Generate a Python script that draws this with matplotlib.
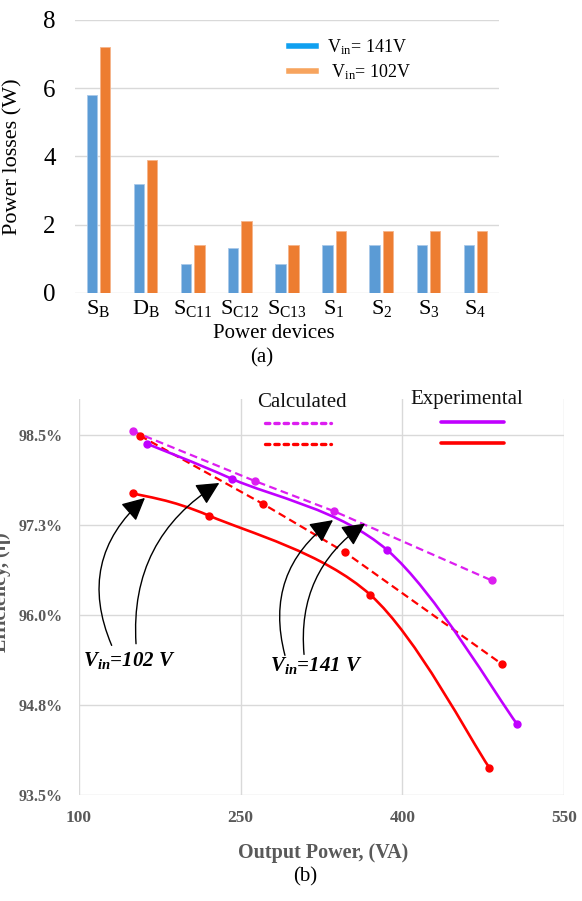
import matplotlib
matplotlib.use("Agg")
import matplotlib.pyplot as plt
import numpy as np
from matplotlib.path import Path
from matplotlib.patches import PathPatch
from matplotlib.lines import Line2D

plt.rcParams['font.family'] = ['Liberation Serif', 'DejaVu Serif']
plt.rcParams['mathtext.fontset'] = 'custom'
plt.rcParams['mathtext.rm'] = 'Liberation Serif'
plt.rcParams['mathtext.it'] = 'Liberation Serif:italic'
plt.rcParams['mathtext.bf'] = 'Liberation Serif:bold'
plt.rcParams['mathtext.bfit'] = 'Liberation Serif:bold:italic'

# ---------------- data (a) ----------------
devices = [r'S$_\mathrm{B}$', r'D$_\mathrm{B}$', r'S$_\mathrm{C11}$', r'S$_\mathrm{C12}$',
           r'S$_\mathrm{C13}$', r'S$_\mathrm{1}$', r'S$_\mathrm{2}$', r'S$_\mathrm{3}$', r'S$_\mathrm{4}$']
loss_141 = [5.8, 3.2, 0.85, 1.3, 0.85, 1.4, 1.4, 1.4, 1.4]
loss_102 = [7.2, 3.9, 1.4, 2.1, 1.4, 1.8, 1.8, 1.8, 1.8]
yticks_a = [0, 2, 4, 6, 8]

# ---------------- data (b) ----------------
calc141_x = [150.4, 263.3, 336.9, 482.9]
calc141_y = [98.55, 97.86, 97.44, 96.48]
calc102_x = [156.6, 271.0, 346.8, 492.2]
calc102_y = [98.49, 97.54, 96.87, 95.32]
exp141_x = [162.8, 242.0, 386.1, 506.7]
exp141_y = [98.38, 97.89, 96.90, 94.48]
exp102_x = [150.4, 220.6, 370.3, 480.7]
exp102_y = [97.69, 97.38, 96.28, 93.88]
xticks_b = [100, 250, 400, 550]
yticks_b = [93.5, 94.75, 96.0, 97.25, 98.5]
ytick_labels_b = ['93.5%', '94.8%', '96.0%', '97.3%', '98.5%']

W, H = 582, 901
fig = plt.figure(figsize=(W / 100, H / 100), dpi=100)

# ================= (a) =================
ax = fig.add_axes([75 / W, 1 - 292.7 / H, 424 / W, 272.7 / H])
x = np.arange(len(devices))
bw = 0.22
ax.bar(x - 0.14, loss_141, bw, color='#5b9bd5', edgecolor='#a9c9ea', linewidth=0.6, zorder=3)
ax.bar(x + 0.14, loss_102, bw, color='#ed7d31', edgecolor='#f5b48a', linewidth=0.6, zorder=3)
ax.set_xlim(-0.5, len(devices) - 0.5)
ax.set_ylim(0, 8)
ax.set_yticks(yticks_a)
ax.set_yticklabels([str(v) for v in yticks_a], fontsize=18)
ax.set_xticks(x)
ax.set_xticklabels(devices, fontsize=16)
ax.tick_params(axis='both', length=0)
ax.tick_params(axis='y', pad=14)
ax.tick_params(axis='x', pad=4)
for s in ax.spines.values():
    s.set_visible(False)
ax.grid(axis='y', color='#d9d9d9', lw=1.0, zorder=0)
ax.set_axisbelow(True)
ax.set_ylabel('Power losses (W)', fontsize=16)
ax.yaxis.set_label_coords(-0.125, 0.5)
ax.text(0.469, -0.148, 'Power devices', transform=ax.transAxes, ha='center', va='center', fontsize=15)
ax.text(0.441, -0.239, '(a)', transform=ax.transAxes, ha='center', va='center', fontsize=15)

handles = [Line2D([], [], color='#10a0f0', lw=4.0),
           Line2D([], [], color='#f7a45e', lw=4.0)]
ax.legend(handles, [r'V$_\mathrm{in}$= 141V', r' V$_\mathrm{in}$= 102V'],
          loc='upper left', bbox_to_anchor=(0.505, 0.935), frameon=False,
          fontsize=13, handlelength=1.5, handletextpad=0.6, borderpad=0,
          borderaxespad=0, labelspacing=0.25)

# ================= (b) =================
ax2 = fig.add_axes([79 / W, 1 - 795 / H, 485 / W, 396 / H])
ax2.set_xlim(100, 550)
ax2.set_ylim(93.5, 99.0)
ax2.set_xticks(xticks_b)
ax2.set_xticklabels([str(v) for v in xticks_b], fontsize=12.5, fontweight='bold', color='#595959')
ax2.set_yticks(yticks_b)
ax2.set_yticklabels(ytick_labels_b, fontsize=11.5, fontweight='bold', color='#595959')
ax2.tick_params(axis='both', length=0)
ax2.tick_params(axis='y', pad=11.5)
ax2.tick_params(axis='x', pad=11)
for s in ax2.spines.values():
    s.set_visible(False)
ax2.grid(True, color='#d9d9d9', lw=1.0, zorder=0)
ax2.set_axisbelow(True)
ax2.text(0.503, -0.1457, 'Output Power, (VA)', transform=ax2.transAxes, ha='center', va='center',
         fontsize=14.5, fontweight='bold', color='#595959')
fig.text(1.5 / W, 1 - 592 / H, 'Efficiency, (η)', rotation=90, ha='center', va='center',
         fontsize=14.5, fontweight='bold', color='#595959')
fig.text(305 / W, 1 - 877 / H, '(b)', ha='center', va='center', fontsize=15)

MAG_D = '#dc1ef0'
MAG_S = '#c000ff'
RED = '#ff0000'


def smooth_path(xs, ys):
    pts = np.column_stack([xs, ys]).astype(float)
    n = len(pts)
    verts = [pts[0]]
    codes = [Path.MOVETO]
    for i in range(n - 1):
        p0 = pts[i - 1] if i > 0 else pts[i]
        p1 = pts[i]
        p2 = pts[i + 1]
        p3 = pts[i + 2] if i + 2 < n else pts[i + 1]
        c1 = p1 + (p2 - p0) / 6.0
        c2 = p2 - (p3 - p1) / 6.0
        verts += [c1, c2, p2]
        codes += [Path.CURVE4] * 3
    return Path(verts, codes)


# calculated (dashed)
ax2.plot(calc141_x, calc141_y, color=MAG_D, lw=1.6, dashes=(3.5, 2.0), marker='o', ms=5, zorder=4)
ax2.plot(calc102_x, calc102_y, color=RED, lw=1.6, dashes=(3.5, 2.0), marker='o', ms=5, zorder=4)
# experimental (smoothed)
for xs, ys, c in [(exp102_x, exp102_y, RED), (exp141_x, exp141_y, MAG_S)]:
    ax2.add_patch(PathPatch(smooth_path(xs, ys), fill=False, edgecolor=c, lw=1.9, zorder=5))
    ax2.plot(xs, ys, linestyle='none', marker='o', ms=5, color=c, zorder=6)

# key
ta = ax2.transAxes
ax2.text(0.4604, 0.9924, 'Calculated', transform=ta, ha='center', va='center', fontsize=15, color='#111111')
ax2.text(0.8004, 0.9975, 'Experimental', transform=ta, ha='center', va='center', fontsize=15, color='#111111')
ax2.add_line(Line2D([0.3835, 0.5189], [0.9386, 0.9386], transform=ta, color=MAG_D, lw=2.4,
                    dashes=(1.3, 1.5), dash_capstyle='round', zorder=7))
ax2.add_line(Line2D([0.3835, 0.5189], [0.8856, 0.8856], transform=ta, color=RED, lw=2.4,
                    dashes=(1.3, 1.5), dash_capstyle='round', zorder=7))
ax2.add_line(Line2D([0.7458, 0.8763], [0.9412, 0.9412], transform=ta, color=MAG_S, lw=2.6,
                    solid_capstyle='round', zorder=7))
ax2.add_line(Line2D([0.7458, 0.8763], [0.8881, 0.8881], transform=ta, color=RED, lw=2.6,
                    solid_capstyle='round', zorder=7))

# annotations
arrows = [((130.3, 95.578), (161.2, 97.626), -0.36),
          ((152.9, 95.601), (230.2, 97.834), -0.30),
          ((291.1, 95.439), (335.7, 97.318), -0.34),
          ((308.8, 95.453), (365.4, 97.270), -0.29)]
for start, tip, rad in arrows:
    ax2.annotate('', xy=tip, xytext=start,
                 arrowprops=dict(arrowstyle='-|>,head_length=0.7,head_width=0.35',
                                 connectionstyle=f'arc3,rad={rad}', color='black', lw=1.0,
                                 shrinkA=0, shrinkB=0, mutation_scale=20), zorder=8)
ax2.text(103.4, 95.37, r'$\mathbfit{V}_{\mathbfit{in}}$=102 V', ha='left', va='center',
         fontsize=15, fontweight='bold', fontstyle='italic', zorder=9)
ax2.text(277.2, 95.30, r'$\mathbfit{V}_{\mathbfit{in}}$=141 V', ha='left', va='center',
         fontsize=15, fontweight='bold', fontstyle='italic', zorder=9)

fig.savefig('out.png', dpi=100)
